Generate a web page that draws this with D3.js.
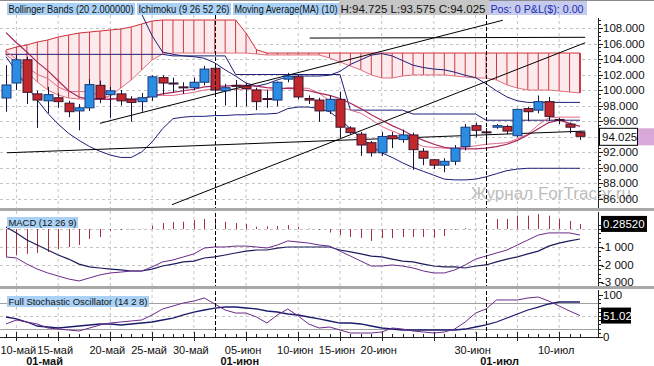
<!DOCTYPE html>
<html><head><meta charset="utf-8">
<script src="https://cdn.jsdelivr.net/npm/d3@7"></script>
<style>
body{margin:0;background:#fff;}
svg{display:block;font-family:"Liberation Sans",Arial,sans-serif;}
</style></head><body>
<script>
var openP=[98.97,100.9,103.9,99.5,98.6,99.0,98.3,97.3,97.7,100.6,
 99.4,99.5,98.8,98.5,99.1,101.6,100.9,100.4,100.3,101.0,
 102.8,99.9,100.6,100.5,100.0,98.9,98.7,101.4,101.7,98.9,
 98.7,97.3,98.8,95.1,94.3,93.2,91.9,94.1,93.6,94.2,
 92.1,91.0,90.3,90.8,92.7,95.4,94.6,95.2,95.3,94.1,
 97.6,97.4,98.5,96.2,95.6,94.5];
var highP=[103.2,104.5,104.3,99.9,100.4,99.6,98.6,98.2,101.4,101.2,
 100.4,100.0,99.2,99.6,101.9,101.9,101.6,101.0,101.6,103.1,
 103.0,100.8,101.3,100.9,100.3,100.0,101.1,102.2,102.0,99.3,
 99.0,99.3,99.8,95.3,94.6,93.4,94.6,94.6,94.9,94.5,
 92.5,91.1,91.2,92.9,95.6,95.8,95.1,95.6,95.5,97.6,
 97.8,99.3,99.1,96.4,95.8,94.725];
var lowP=[97.2,100.0,98.2,95.1,97.0,97.7,96.5,94.8,97.3,98.3,
 96.4,98.0,95.9,97.2,98.6,99.4,99.7,99.5,100.0,100.6,
 99.3,98.0,97.8,97.9,97.4,97.7,97.9,101.0,98.8,98.2,
 95.9,96.9,93.8,94.3,91.5,91.4,91.5,92.5,93.2,89.7,
 90.3,89.8,89.4,90.3,92.2,93.9,93.3,95.0,94.3,93.9,
 96.0,97.0,96.0,95.6,94.4,93.575];
var closeP=[100.65,103.9,99.7,98.7,99.4,98.5,97.2,97.7,100.7,98.9,
 99.9,98.6,98.4,99.0,101.7,100.9,100.85,100.3,101.0,102.7,
 100.0,100.3,100.5,100.2,98.5,98.8,101.0,101.8,99.1,98.7,
 97.3,98.8,95.2,94.5,92.9,91.9,94.0,93.7,94.2,92.3,
 91.2,90.3,90.8,92.5,95.2,94.8,94.55,95.4,94.7,97.5,
 97.2,98.5,96.6,96.1,95.2,94.025];

var bbUpper=[109.8,109.8,109.8,109.8,109.8,109.8,109.8,109.8,109.8,109.8,
 109.8,109.8,109.8,109.8,107.0,104.9,104.6,104.4,104.3,104.1,
 103.5,102.6,101.8,100.9,100.5,100.8,101.3,101.7,101.8,101.8,
 101.8,101.9,102.4,103.3,103.9,104.5,104.7,104.4,103.8,103.2,
 102.9,102.7,102.6,102.3,101.9,101.6,100.8,99.9,99.1,98.6,
 98.4,98.4,98.4,98.4,98.4,98.4];
var bbLower=[104.3,102.4,100.5,98.7,97.0,95.6,94.4,93.5,92.7,92.1,
 91.6,91.3,91.3,92.0,93.3,95.0,96.3,96.5,96.6,96.6,
 96.7,96.7,96.8,96.8,96.9,96.9,97.0,97.6,97.8,97.8,
 97.6,97.2,96.2,95.0,93.8,92.8,91.9,91.3,90.6,90.0,
 89.5,89.0,88.5,88.4,88.4,88.5,88.8,89.2,89.6,89.8,
 89.9,89.9,89.9,89.9,89.9,89.9];
var kijun=[104.6,104.6,104.6,104.6,104.6,104.6,104.6,104.6,104.6,104.6,
 104.6,104.6,104.6,104.6,104.6,104.6,104.4,104.4,104.4,104.4,
 104.4,104.4,102.0,102.0,102.0,102.0,102.0,102.0,102.0,102.0,
 102.0,102.0,102.0,97.4,97.4,97.4,97.4,97.4,97.4,96.9,
 96.9,96.9,96.9,96.9,96.9,96.9,96.1,96.1,96.1,96.1,
 96.1,96.1,96.1,96.1,96.1,96.1];
var tenkan=[105.0,104.0,103.0,102.0,101.5,100.4,99.8,99.8,99.8,99.2,
 98.9,98.9,98.8,98.8,99.3,99.3,99.3,99.5,99.7,100.0,
 100.1,100.1,100.1,100.1,100.0,100.0,100.0,100.3,100.3,100.2,
 99.6,98.6,97.8,97.4,97.0,96.2,95.3,94.7,94.2,93.3,
 92.7,92.6,92.5,92.5,92.6,92.8,93.0,93.1,93.2,93.7,
 94.3,95.5,96.4,96.5,96.5,96.5];
var ma10=[107.4,106.1,104.9,103.6,102.5,101.2,99.9,99.1,98.8,98.8,
 98.8,98.9,98.8,98.9,99.2,99.5,99.7,99.9,100.1,100.4,
 100.5,100.5,100.6,100.6,100.5,100.3,100.2,100.2,100.1,99.9,
 99.6,99.3,98.9,98.3,97.6,96.8,96.1,95.4,94.8,94.1,
 93.5,93.0,92.6,92.4,92.4,92.4,92.5,92.7,93.0,93.5,
 94.2,95.0,95.8,96.1,95.7,95.3];
var spanA=[105.16,105.55,105.81,106.19,106.45,106.84,107.10,107.35,107.48,107.61,
 107.74,107.87,108.13,108.52,108.90,109.03,109.03,109.03,109.03,109.03,
 109.03,109.03,109.03,107.35,105.2,104.77,104.77,104.77,104.77,104.77,
 104.77,104.77,104.77,104.77,104.77,104.77,104.77,104.77,104.77,104.77,
 104.77,104.77,104.77,104.77,104.77,104.77,104.77,104.77,104.77,104.77,
 104.77,104.77,104.77,104.77,104.77,104.77];
var spanB=[104.52,103.61,102.32,101.03,100.0,99.35,98.97,98.84,98.84,98.97,
 99.23,100.26,101.29,102.58,103.87,104.65,104.77,104.77,104.77,104.77,
 104.77,104.77,104.77,104.77,104.65,104.52,104.52,104.52,104.52,104.52,
 104.52,104.13,103.61,103.10,102.58,101.94,101.55,101.55,101.81,101.94,
 101.94,101.94,101.94,101.81,101.68,101.55,101.55,101.29,100.65,100.26,
 100.0,100.0,100.0,99.87,99.74,99.61];
// trend lines: [bar1, price1, bar2, price2]
var trendLines=[[9.0,95.7,47.6,109.0],[29.1,106.7,55.5,106.8],[15.9,85.2,55.5,106.1],[0.1,91.9,55.5,94.7]];

var macdHist=[-1.57,-1.46,-1.40,-1.35,-1.29,-1.12,-1.01,-0.90,-0.56,-0.45,
 -0.10,-0.06,-0.03,0.02,0.19,0.34,0.39,0.41,0.50,0.56,
 0.60,0.40,0.34,0.28,0.13,0.15,0.17,0.22,0.13,0.03,
 -0.05,-0.20,-0.34,-0.45,-0.50,-0.67,-0.51,-0.51,-0.45,-0.45,
 -0.45,-0.48,-0.39,-0.05,0.05,0.02,0.10,0.56,0.56,0.75,
 0.75,0.84,0.75,0.56,0.45,0.2852];
var macdLine=[-1.57,-1.63,-1.97,-2.25,-2.47,-2.64,-2.81,-2.92,-2.75,-2.58,
 -2.47,-2.42,-2.36,-2.36,-2.13,-1.85,-1.74,-1.57,-1.40,-1.07,
 -1.01,-1.01,-0.96,-0.96,-1.01,-1.07,-0.90,-0.67,-0.73,-0.79,
 -0.90,-0.96,-1.24,-1.52,-1.80,-2.08,-2.08,-2.02,-2.08,-2.19,
 -2.36,-2.47,-2.47,-2.30,-2.02,-1.69,-1.52,-1.35,-1.18,-0.90,
 -0.62,-0.34,-0.22,-0.22,-0.22,-0.34];
var signalLine=[0.11,-0.22,-0.62,-0.90,-1.18,-1.46,-1.69,-1.97,-2.13,-2.19,
 -2.25,-2.30,-2.36,-2.36,-2.25,-2.08,-1.97,-1.85,-1.80,-1.63,
 -1.57,-1.46,-1.35,-1.24,-1.18,-1.18,-1.07,-1.01,-1.01,-1.01,
 -1.01,-1.01,-1.18,-1.29,-1.40,-1.52,-1.57,-1.69,-1.80,-1.85,
 -1.97,-2.08,-2.13,-2.13,-2.19,-2.08,-2.02,-1.85,-1.69,-1.57,
 -1.40,-1.24,-0.96,-0.79,-0.67,-0.56];

var stochK=[31,40.5,35.7,31,21.4,19,16.7,14.3,21.4,28.6,
 33.3,35.7,38.1,40.5,52.4,66.7,73.8,81,85.7,92.9,
 78.6,64.3,57.1,57.1,47.6,33.3,52.4,66.7,50,31,
 21.4,23.8,16.7,9.5,9.5,9.5,11.9,21.4,19,14.3,
 11.9,9.5,11.9,19,35.7,57.1,66.7,88.1,88.1,88.1,
 92.9,95.2,85.7,73.8,61.9,51.02];
var stochD=[47.6,42.9,35.7,26.2,23.8,21.4,23.8,26.2,28.6,31,
 31,28.6,31,33.3,35.7,40.5,45.2,52.4,59.5,64.3,
 69,71.4,71.4,69,66.7,61.9,59.5,54.8,52.4,47.6,
 42.9,38.1,33.3,33.3,31,26.2,21.4,19,16.7,16.7,
 16.7,16.7,16.7,16.7,19,23.8,28.6,35.7,45.2,54.8,
 64.3,71.4,78.6,83.3,83.3,83.3];

var priceTicks=[108,106,104,102,100,98,96,94,92,90,88,86];
var macdTicks=[-1,-2,-3];
var macdTickLabels=["-1 000","-2 000","-3 000"];
var stochTicks=[100,0];
var gridIdx=[1,5,10,14,18,23,28,32,36,41,45,49,53];
var gridLabels=["10-май","15-май","20-май","25-май","30-май","05-июн","10-июн","15-июн","20-июн","","30-июн","","10-июл"];
var monthLineIdx=[20,46];
var monthLabelIdx=[3.7,22.4,47.3];
var monthLabels=["01-май","01-июн","01-июл"];

var axX=598;
var x=d3.scaleLinear().domain([0,55]).range([6,580]);
var yMain=d3.scaleLinear().domain([86,108]).range([198.5,28]);
var yMacd=d3.scaleLinear().domain([-3,0]).range([282.4,229]);
var yStoch=d3.scaleLinear().domain([0,100]).range([337,295]);
var bars=d3.range(openP.length);

var svg=d3.select("body").append("svg")
.attr("width",654)
.attr("height",366);

var defs=svg.append("defs");
defs.append("clipPath").attr("id","cMain").append("rect")
.attr("x",0).attr("y",15).attr("width",axX).attr("height",193);
defs.append("clipPath").attr("id","cMacd").append("rect")
.attr("x",0).attr("y",211).attr("width",axX).attr("height",75);
defs.append("clipPath").attr("id","cStoch").append("rect")
.attr("x",0).attr("y",289).attr("width",axX).attr("height",49);

svg.append("rect").attr("width",654).attr("height",366).attr("fill","#fff");

// vertical grid in all panels
[[15,208],[211,286],[289,337]].forEach(function(p){
  svg.append("g").selectAll("line")
  .data(gridIdx).enter().append("line")
  .attr("x1",function(d){return x(d);}).attr("x2",function(d){return x(d);})
  .attr("y1",p[0]).attr("y2",p[1])
  .attr("stroke","#c4c4c4").attr("stroke-dasharray","3,3");
});

var gMain=svg.append("g").attr("clip-path","url(#cMain)");

gMain.selectAll("line.hgrid")
.data(priceTicks).enter().append("line")
.attr("x1",0).attr("x2",axX)
.attr("y1",function(d){return Math.round(yMain(d))+0.5;})
.attr("y2",function(d){return Math.round(yMain(d))+0.5;})
.attr("stroke","#c4c4c4").attr("stroke-dasharray","3,3");

// ichimoku cloud
gMain.append("path").datum(bars)
.attr("d",d3.area().x(function(i){return x(i);})
 .y0(function(i){return yMain(spanA[i]);})
 .y1(function(i){return yMain(spanB[i]);}))
.attr("fill","#fdeaec");
gMain.selectAll("line.cloud")
.data(bars).enter().append("line")
.attr("x1",function(i){return x(i);}).attr("x2",function(i){return x(i);})
.attr("y1",function(i){return yMain(spanA[i]);})
.attr("y2",function(i){return yMain(spanB[i]);})
.attr("stroke","#cc3a44").attr("stroke-width",function(i){return i==55?2:1;});

function priceLine(arr,color,w){
  gMain.append("path").datum(arr)
  .attr("d",d3.line().x(function(d,i){return x(i);}).y(function(d){return yMain(d);}))
  .attr("fill","none").attr("stroke",color).attr("stroke-width",w);
}
priceLine(spanA,"#d0303c",1);
priceLine(spanB,"#e0707c",1);
priceLine(bbUpper,"#1e1e78",1);
priceLine(bbLower,"#1e1e78",1);
priceLine(kijun,"#1e1e78",1);
priceLine(tenkan,"#e06a86",1);
priceLine(ma10,"#a8285c",1.2);

gMain.selectAll("line.trend")
.data(trendLines).enter().append("line")
.attr("x1",function(d){return x(d[0]);})
.attr("y1",function(d){return yMain(d[1]);})
.attr("x2",function(d){return x(d[2]);})
.attr("y2",function(d){return yMain(d[3]);})
.attr("stroke","#000").attr("stroke-width",1);

// candles
gMain.selectAll("line.wick")
.data(bars).enter().append("line")
.attr("x1",function(i){return Math.round(x(i))+0.5;})
.attr("x2",function(i){return Math.round(x(i))+0.5;})
.attr("y1",function(i){return yMain(highP[i]);})
.attr("y2",function(i){return yMain(lowP[i]);})
.attr("stroke","#14143a");

gMain.selectAll("rect.body")
.data(bars).enter().append("rect")
.attr("x",function(i){return Math.round(x(i))-4;})
.attr("width",9)
.attr("y",function(i){return yMain(Math.max(openP[i],closeP[i]));})
.attr("height",function(i){return Math.max(1,Math.abs(yMain(openP[i])-yMain(closeP[i])));})
.attr("fill",function(i){return closeP[i]>=openP[i]?"#2a8ce2":"#c0282c";})
.attr("stroke",function(i){return closeP[i]>=openP[i]?"#1a3a7a":"#3c1430";})
.attr("stroke-width",1);

// MACD
var gMacd=svg.append("g").attr("clip-path","url(#cMacd)");
gMacd.selectAll("line.hg")
.data([0,-1,-2]).enter().append("line")
.attr("x1",0).attr("x2",axX)
.attr("y1",function(d){return Math.round(yMacd(d))+0.5;})
.attr("y2",function(d){return Math.round(yMacd(d))+0.5;})
.attr("stroke","#c4c4c4").attr("stroke-dasharray","3,3");
gMacd.selectAll("line.hist")
.data(bars).enter().append("line")
.attr("x1",function(i){return Math.round(x(i))+0.5;})
.attr("x2",function(i){return Math.round(x(i))+0.5;})
.attr("y1",yMacd(0))
.attr("y2",function(i){return yMacd(macdHist[i]);})
.attr("stroke","#a8303e");
gMacd.append("path").datum(signalLine)
.attr("d",d3.line().x(function(d,i){return x(i);}).y(function(d){return yMacd(d);}))
.attr("fill","none").attr("stroke","#1c1c5c").attr("stroke-width",1.2);
gMacd.append("path").datum(macdLine)
.attr("d",d3.line().x(function(d,i){return x(i);}).y(function(d){return yMacd(d);}))
.attr("fill","none").attr("stroke","#6a2a8a").attr("stroke-width",1);

// stochastic
var gSt=svg.append("g").attr("clip-path","url(#cStoch)");
gSt.append("line").attr("x1",0).attr("x2",axX)
.attr("y1",Math.round(yStoch(50))+0.5).attr("y2",Math.round(yStoch(50))+0.5)
.attr("stroke","#c4c4c4").attr("stroke-dasharray","3,3");
gSt.selectAll("line.lvl")
.data([80,20]).enter().append("line")
.attr("x1",0).attr("x2",axX)
.attr("y1",function(d){return Math.round(yStoch(d))+0.5;})
.attr("y2",function(d){return Math.round(yStoch(d))+0.5;})
.attr("stroke","#a0a0a0");
gSt.append("path").datum(stochD)
.attr("d",d3.line().x(function(d,i){return x(i);}).y(function(d){return yStoch(d);}))
.attr("fill","none").attr("stroke","#1c1c6c").attr("stroke-width",1.3);
gSt.append("path").datum(stochK)
.attr("d",d3.line().x(function(d,i){return x(i);}).y(function(d){return yStoch(d);}))
.attr("fill","none").attr("stroke","#6a2a8a").attr("stroke-width",1);

// month dashed lines
svg.selectAll("line.month")
.data(monthLineIdx).enter().append("line")
.attr("x1",function(d){return Math.round(x(d))+0.5;})
.attr("x2",function(d){return Math.round(x(d))+0.5;})
.attr("y1",15).attr("y2",337)
.attr("stroke","#000").attr("stroke-dasharray","4,2");

// separators
svg.append("rect").attr("x",0).attr("y",0).attr("width",654).attr("height",1).attr("fill","#8c8c8c");
svg.append("rect").attr("x",0).attr("y",208).attr("width",654).attr("height",3).attr("fill","#a8a8a8");
svg.append("rect").attr("x",0).attr("y",286).attr("width",654).attr("height",3).attr("fill","#a8a8a8");

// header
function tag(xp,yp,w,h,bg,txt,col,fs,tl){
  svg.append("rect").attr("x",xp).attr("y",yp).attr("width",w).attr("height",h).attr("fill",bg);
  svg.append("text").text(txt).attr("x",xp+1.5).attr("y",yp+h-2.5)
  .attr("font-size",fs).attr("fill",col).attr("textLength",tl).attr("lengthAdjust","spacingAndGlyphs");
}
tag(7,3,128,12,"#a9d2f6","Bollinger Bands (20 2.000000)","#111",10,125);
tag(137,3,94,12,"#a9d2f6","Ichimoku (9 26 52 26)","#111",10,91);
tag(233,3,106,12,"#a9d2f6","Moving Average(MA) (10)","#111",10,103);
tag(339,0,150,15,"#c6c6c6","H:94.725  L:93.575  C:94.025","#111",11.5,145);
tag(489,1,98,14,"#c6cbee","Pos: 0 P&L($): 0.00","#1e2cae",11.5,93);
tag(7,217,71,11,"#a9d2f6","MACD (12 26 9)","#111",9.5,68);
tag(7,296,142,11,"#a9d2f6","Full Stochastic Oscillator (14 2 8)","#111",9.5,139);

// watermark, drawn across the axis like the reference
svg.append("text").text("Журнал ForTracer.ru")
.attr("x",471).attr("y",199)
.attr("font-size",16).attr("fill","#bdbdbd")
.attr("textLength",160).attr("lengthAdjust","spacingAndGlyphs");

// right axes
var ax=svg.append("g").attr("fill","#111").attr("font-size",11.5);
[[18,208],[212,286],[290,338]].forEach(function(p){
  ax.append("line").attr("x1",axX+0.5).attr("x2",axX+0.5).attr("y1",p[0]).attr("y2",p[1]).attr("stroke","#222");
});
ax.selectAll("line.mt")
.data(d3.range(86,109.5,0.5)).enter().append("line")
.attr("x1",axX).attr("x2",function(d){return d%2==0?axX+5:axX+3;})
.attr("y1",function(d){return Math.round(yMain(d))+0.5;})
.attr("y2",function(d){return Math.round(yMain(d))+0.5;})
.attr("stroke","#222");
ax.selectAll("text.mt")
.data(priceTicks).enter().append("text")
.text(function(d){return d3.format(".3f")(d);})
.attr("x",axX+5).attr("y",function(d){return yMain(d)+4;});
ax.selectAll("line.dt")
.data(d3.range(-3,0.3,0.25)).enter().append("line")
.attr("x1",axX).attr("x2",function(d){return d%1==0?axX+5:axX+3;})
.attr("y1",function(d){return Math.round(yMacd(d))+0.5;})
.attr("y2",function(d){return Math.round(yMacd(d))+0.5;})
.attr("stroke","#222");
ax.selectAll("text.dt")
.data(macdTicks).enter().append("text")
.text(function(d,i){return macdTickLabels[i];})
.attr("x",axX+3).attr("y",function(d){return yMacd(d)+4;});
ax.selectAll("line.st")
.data(d3.range(0,101,10)).enter().append("line")
.attr("x1",axX).attr("x2",function(d){return d%50==0?axX+5:axX+3;})
.attr("y1",function(d){return Math.round(yStoch(d))+0.5;})
.attr("y2",function(d){return Math.round(yStoch(d))+0.5;})
.attr("stroke","#222");
ax.selectAll("text.st")
.data(stochTicks).enter().append("text")
.text(function(d){return d;})
.attr("x",axX+5).attr("y",function(d){return yStoch(d)+4;});

// last value boxes
var yc=yMain(closeP[55]);
ax.append("rect").attr("x",599.5).attr("y",yc-8).attr("width",38).attr("height",17)
.attr("fill","#fff").attr("stroke","#000");
ax.append("rect").attr("x",638).attr("y",yc-8).attr("width",16).attr("height",17).attr("fill","#d8a8d8");
ax.append("text").text(d3.format(".3f")(closeP[55])).attr("x",602).attr("y",yc+4.5);
var yh=yMacd(macdHist[55]);
ax.append("rect").attr("x",601).attr("y",yh-8).attr("width",46).attr("height",16).attr("fill","#000");
ax.append("text").text(d3.format(".5f")(macdHist[55])).attr("x",603).attr("y",yh+4).attr("fill","#fff");
var ys=yStoch(stochK[55]);
ax.append("rect").attr("x",601).attr("y",ys-8).attr("width",30).attr("height",16).attr("fill","#000");
ax.append("text").text(d3.format(".2f")(stochK[55])).attr("x",603).attr("y",ys+4).attr("fill","#fff");

// x axis
var xa=svg.append("g");
xa.append("line").attr("x1",0).attr("x2",axX).attr("y1",337.5).attr("y2",337.5).attr("stroke","#222");
xa.selectAll("line.bt")
.data(bars).enter().append("line")
.attr("x1",function(i){return Math.round(x(i))+0.5;})
.attr("x2",function(i){return Math.round(x(i))+0.5;})
.attr("y1",334).attr("y2",338).attr("stroke","#222");
xa.selectAll("line.gt")
.data(gridIdx).enter().append("line")
.attr("x1",function(d){return Math.round(x(d))+0.5;})
.attr("x2",function(d){return Math.round(x(d))+0.5;})
.attr("y1",332).attr("y2",341).attr("stroke","#222");
xa.selectAll("text.dl")
.data(gridIdx).enter().append("text")
.text(function(d,i){return gridLabels[i];})
.attr("x",function(d){return x(d)-3;}).attr("y",354)
.attr("text-anchor","middle").attr("font-size",11).attr("fill","#111")
.each(function(){
  var w=this.getComputedTextLength(), cx=+d3.select(this).attr("x");
  if(cx-w/2<0) d3.select(this).attr("x",w/2+0.5);
});
xa.selectAll("text.ml")
.data(monthLabelIdx).enter().append("text")
.text(function(d,i){return monthLabels[i];})
.attr("x",function(d){return x(d);}).attr("y",365)
.attr("text-anchor","middle").attr("font-size",11).attr("font-weight","bold").attr("fill","#111");
</script>
</body></html>
